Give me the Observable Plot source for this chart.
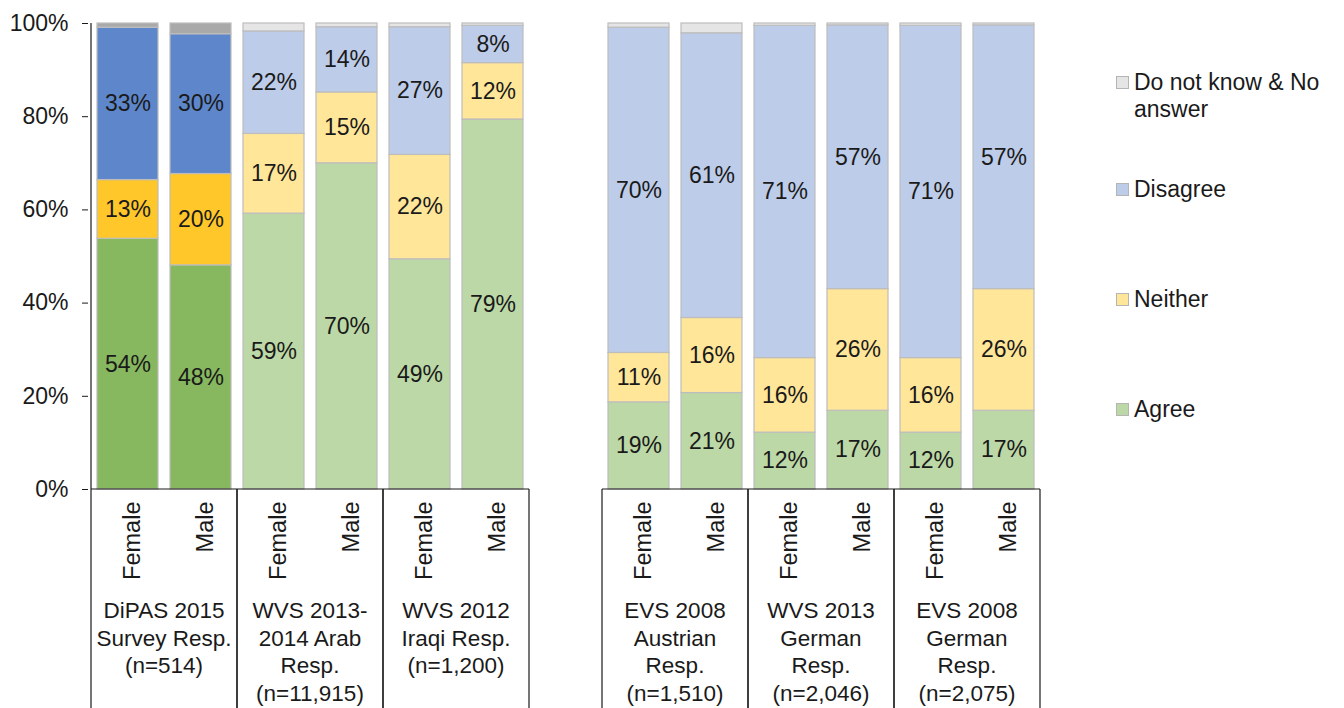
<!DOCTYPE html>
<html><head><meta charset="utf-8">
<script src="https://cdn.jsdelivr.net/npm/d3@7"></script>
<script src="https://cdn.jsdelivr.net/npm/@observablehq/plot@0.6"></script>
<style>
body{margin:0;background:#fff;font-family:"Liberation Sans",Arial,sans-serif;}
#wrap{position:relative;width:1344px;height:708px;overflow:hidden;}
#legend{position:absolute;left:1116px;top:0;}
.item{position:absolute;left:0;display:flex;align-items:flex-start;font-size:23px;color:#1a1a1a;line-height:27px;}
.sw{width:11px;height:11px;margin-top:7px;margin-right:5px;border:1px solid #b5b5b5;flex:none;}
.lt{width:205px;}
</style></head><body>
<div id="wrap"><div id="chart"></div><div id="legend"></div></div>
<script>
// ---- data ----
const surveys = [
  "DiPAS 2015\nSurvey Resp.\n(n=514)",
  "WVS 2013-\n2014 Arab\nResp.\n(n=11,915)",
  "WVS 2012\nIraqi Resp.\n(n=1,200)",
  "EVS 2008\nAustrian\nResp.\n(n=1,510)",
  "WVS 2013\nGerman\nResp.\n(n=2,046)",
  "EVS 2008\nGerman\nResp.\n(n=2,075)"
];
const genders = ["Female", "Male"];
const responses = ["Agree", "Neither", "Disagree", "Do not know & No answer"];
// one value per bar: surveys x genders, in order
const agree    = [53.8, 48.1, 59.2, 70.0, 49.4, 79.4, 18.7, 20.7, 12.2, 16.9, 12.2, 16.9];
const neither  = [12.6, 19.6, 17.1, 15.2, 22.4, 12.1, 10.6, 16.1, 16.0, 26.1, 16.0, 26.1];
const disagree = [32.7, 30.0, 22.0, 14.0, 27.4,  8.0, 69.8, 61.1, 71.3, 56.6, 71.3, 56.6];
const dontKnow = [ 0.9,  2.3,  1.7,  0.8,  0.8,  0.5,  0.9,  2.1,  0.5,  0.4,  0.5,  0.4];
const yTicks = [0, 20, 40, 60, 80, 100];
const leftBlock = [0, 1, 2], rightBlock = [3, 4, 5];

// ---- styles ----
const strongPalette = {"Agree": "#87b75f", "Neither": "#ffc72a", "Disagree": "#5e87cb", "Do not know & No answer": "#a9a9a9"};
const softPalette   = {"Agree": "#bcd8a6", "Neither": "#ffe699", "Disagree": "#bdcce8", "Do not know & No answer": "#e5e5e5"};
const fontFamily = "'Liberation Sans', Arial, sans-serif";

// ---- table ----
const series = [agree, neither, disagree, dontKnow];
const slotKey = (s, g) => `${s}-${g}`;
const slots = [];
for (const s of leftBlock) for (let g = 0; g < 2; g++) slots.push(slotKey(s, g));
slots.push("gap");
for (const s of rightBlock) for (let g = 0; g < 2; g++) slots.push(slotKey(s, g));

const rows = [];
surveys.forEach((sv, s) => genders.forEach((gd, g) => {
  responses.forEach((r, k) => {
    rows.push({slot: slotKey(s, g), survey: s, gender: gd, response: r,
      value: series[k][s * 2 + g], color: (s === 0 ? strongPalette : softPalette)[r]});
  });
}));
const genderRows = rows.filter(d => d.response === "Agree");

function table(index, scales, values, dims) {
  const x = scales.x;
  const bw = x.bandwidth(), step = x.step(), pad = (step - bw) / 2;
  const bottom = dims.height - dims.marginBottom;
  const g = d3.create("svg:g");
  const lines = g.append("g").attr("stroke", "#1a1a1a").attr("stroke-width", 1.2).attr("fill", "none");
  const edges = s => [x(slotKey(s, 0)) - pad, x(slotKey(s, 1)) + bw + pad];
  // y axis line
  const x0 = edges(0)[0];
  lines.append("line").attr("x1", x0).attr("x2", x0).attr("y1", dims.marginTop).attr("y2", bottom);
  for (const block of [leftBlock, rightBlock]) {
    const l = edges(block[0])[0], r = edges(block[block.length - 1])[1];
    lines.append("line").attr("x1", l).attr("x2", r).attr("y1", bottom).attr("y2", bottom);
    for (const s of block) {
      for (const e of edges(s)) {
        lines.append("line").attr("x1", e).attr("x2", e).attr("y1", bottom).attr("y2", dims.height);
      }
    }
  }
  const texts = g.append("g").attr("fill", "#1a1a1a").attr("font-size", 22.5)
    .attr("font-family", fontFamily).attr("text-anchor", "middle");
  surveys.forEach((sv, s) => {
    const [l, r] = edges(s);
    const t = texts.append("text").attr("x", (l + r) / 2).attr("y", bottom + 121);
    sv.split("\n").forEach((ln, i) => {
      t.append("tspan").attr("x", (l + r) / 2).attr("dy", i === 0 ? "0.35em" : 27.8).text(ln);
    });
  });
  return g.node();
}

const chart = Plot.plot({
  width: 1100, height: 708,
  marginLeft: 88, marginRight: 57, marginTop: 23, marginBottom: 219,
  style: {fontFamily, background: "white"},
  x: {domain: slots, paddingInner: 0.16, paddingOuter: 0.08, axis: null},
  y: {domain: [0, 100]},
  color: {type: "identity"},
  marks: [
    Plot.barY(rows, {x: "slot", y: "value", z: "response", order: responses, fill: "color", stroke: "#bdbdbd", strokeWidth: 1.2}),
    Plot.text(rows, Plot.stackY({
      x: "slot", y: "value", z: "response", order: responses,
      filter: d => d.response !== "Do not know & No answer",
      text: d => Math.round(d.value) + "%", fontSize: 23, fill: "#1a1a1a"
    })),
    Plot.text(genderRows, {x: "slot", text: "gender", frameAnchor: "bottom", dx: 4, dy: 12, rotate: -90,
      textAnchor: "end", lineAnchor: "middle", fontSize: 23.5, fill: "#1a1a1a"}),
    Plot.axisY(yTicks, {tickFormat: d => d + "%", tickSize: 6, tickPadding: 14, fontSize: 23, color: "#1a1a1a", label: null}),
    table
  ]
});
document.getElementById("chart").appendChild(chart);

// legend (right side)
const legendTops = {"Do not know & No answer": 69, "Disagree": 176, "Neither": 286, "Agree": 396};
const legend = d3.select("#legend");
for (const r of [...responses].reverse()) {
  const it = legend.append("div").attr("class", "item").style("top", legendTops[r] + "px");
  it.append("div").attr("class", "sw").style("background", softPalette[r]);
  it.append("div").attr("class", "lt").text(r);
}
</script>
</body></html>
